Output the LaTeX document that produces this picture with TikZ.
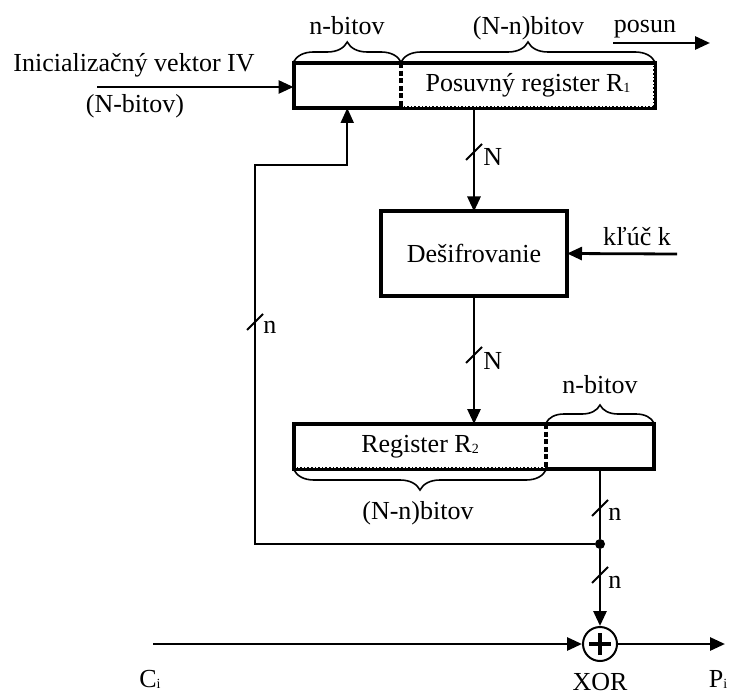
\documentclass[tikz,border=0pt]{standalone}
\usepackage{fontspec}
\setmainfont{Liberation Serif}
\usetikzlibrary{arrows.meta, positioning, decorations.pathreplacing, calc}
\newcommand\regidx[1]{\raisebox{-0.6pt}{\fontsize{7}{8}\selectfont #1}}

\begin{document}
\begin{tikzpicture}[
  x=0.5pt, y=-0.5pt,
  font=\fontsize{13}{15}\selectfont,
  part/.style={minimum height=22.5pt, inner sep=0pt, outer sep=0pt},
  regbox/.style={draw, line width=2pt},
  divider/.style={line width=1.8pt, dash pattern=on 2.5pt off 1.3pt},
  ghost/.style={draw=white, line width=0.35pt, dash pattern=on 1pt off 0.8pt},
  box/.style={draw, line width=2pt, minimum width=93pt, minimum height=42pt,
              inner sep=0pt, outer sep=0pt},
  arr/.style={-{Triangle[length=7.5pt, width=6.5pt]}, line width=1.4pt},
  fb/.style={-{Triangle[length=7.5pt, width=6.5pt]}, line width=1pt},
  wire/.style={line width=1.4pt},
  slash/.style={line width=0.9pt},
  bitbrace/.style={decorate, decoration={brace, amplitude=#1, raise=0.5pt},
                   line width=0.8pt},
  lbl/.style={anchor=base, inner sep=0pt},
  dot/.style={circle, fill, inner sep=0pt, minimum size=5pt},
  xorgate/.style={circle, draw, line width=1pt, minimum size=17pt, inner sep=0pt,
    path picture={
      \draw[line width=2pt]
        ([xshift=-5.5pt]path picture bounding box.center) --
        ([xshift=5.5pt]path picture bounding box.center)
        ([yshift=-5.5pt]path picture bounding box.center) --
        ([yshift=5.5pt]path picture bounding box.center);}}
]
\useasboundingbox (0,0) rectangle (738,695);

% shift register R1
\node[part, minimum width=53.75pt] (r1n) at (347.25,85.5) {};
\node[part, minimum width=127pt, right=0pt of r1n] (r1) {Posuvný register R\regidx{1}};
\draw[regbox] (r1n.north west) rectangle (r1.south east);
\draw[ghost] ([shift={(2,2)}]r1.north west) rectangle ([shift={(-2,-2)}]r1.south east);
\draw[divider] (r1.north west) -- (r1.south west);

\draw[bitbrace=10pt] (r1n.north west) -- (r1n.north east);
\draw[bitbrace=10pt] (r1.north west) -- (r1.north east);
\node[lbl] (nbit1) at (347,35) {n-bitov};
\node[lbl] (Nnbit1) at (528.5,35) {(N-n)bitov};

\node[lbl] (posun) at (645,33) {posun};
\coordinate (posA) at (613,43);
\coordinate (posB) at (710,43);
\draw[arr] (posA) -- (posB);

% initial vector
\node[lbl] (ivtxt) at (134,72) {Inicializačný vektor IV};
\node[lbl] (ivbits) at (135,113) {(N-bitov)};
\coordinate (ivin) at (97,87);
\draw[arr] (ivin) -- (ivin -| r1n.west);

% decryption
\node[box] (des) at (474,253.5) {Dešifrovanie};
\draw[arr] (des.north |- r1.south) -- (des.north);
\draw[slash] (474,152) ++(-8,8) -- ++(16,-16);
\node[lbl, anchor=base west] (bN1) at (483,166) {N};

\coordinate (kin) at (677,254);
\draw[arr] (kin) -- (des.east);
\node[lbl] (key) at (637,245) {kľúč k};

% register R2
\node[part, minimum width=126pt] (r2) at (420,446.5) {Register R\regidx{2}};
\node[part, minimum width=54pt, right=0pt of r2] (r2n) {};
\draw[regbox] (r2.north west) rectangle (r2n.south east);
\draw[ghost] ([shift={(2,2)}]r2.north west) rectangle ([shift={(-2,-2)}]r2.south east);
\draw[divider] (r2n.north west) -- (r2n.south west);

\draw[arr] (des.south) -- (des.south |- r2.north);
\draw[slash] (474,355) ++(-8,8) -- ++(16,-16);
\node[lbl, anchor=base west] (bN2) at (483,369) {N};

\draw[bitbrace=9pt] (r2n.north west) -- (r2n.north east);
\node[lbl] (nbit2) at (600,393) {n-bitov};
\draw[bitbrace=10pt] (r2.south east) -- (r2.south west);
\node[lbl] (Nnbit2) at (418,519) {(N-n)bitov};

% output and feedback
\node[dot] (split) at (600,544) {};
\draw[wire] (r2n.south) -- (split);
\draw[slash] (600,508) ++(-8,8) -- ++(16,-16);
\node[lbl, anchor=base west] (bn1) at (608,520) {n};

\coordinate (fbturn) at (255,165);
\draw[fb] (split) -| (fbturn) -| (r1n.south);
\draw[slash] (255,322) ++(-8,8) -- ++(16,-16);
\node[lbl, anchor=base west] (bn3) at (263,333) {n};

\node[xorgate] (xor) at (600,644) {};
\draw[arr] (split) -- (xor.north);
\draw[slash] (600,575) ++(-8,8) -- ++(16,-16);
\node[lbl, anchor=base west] (bn2) at (608,588) {n};
\node[lbl] (xorl) at (600,690) {XOR};

\coordinate (cin) at (153,644);
\draw[arr] (cin) -- (xor.west);
\node[lbl] (ci) at (150,687) {C\regidx{i}};
\coordinate (pout) at (725,644);
\draw[arr] (xor.east) -- (pout);
\node[lbl] (pi) at (718,687) {P\regidx{i}};
\end{tikzpicture}
\end{document}
